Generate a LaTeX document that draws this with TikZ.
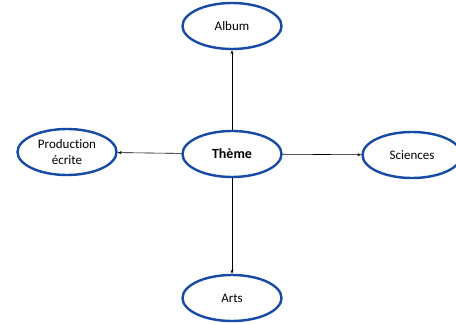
\documentclass[tikz,border=0pt]{standalone}
\usepackage{fontspec}
\setmainfont{Carlito}[Ligatures={NoCommon}]
\usetikzlibrary{shapes.geometric,arrows.meta}
\definecolor{ringblue}{RGB}{22,74,165}
\tikzset{
  topic/.style={ellipse, draw=ringblue, line width=2.4pt, fill=white,
    minimum width=99pt, minimum height=46pt, inner sep=0pt,
    font=\fontsize{13}{16}\selectfont, align=center},
  link/.style={-{Stealth[length=4pt,width=3pt]}, line width=0.6pt, black}
}
\begin{document}
\begin{tikzpicture}[x=1pt,y=-1pt]
\clip (0,0) rectangle (456,324);
\fill[white] (0,0) rectangle (456,324);
\node[topic, font=\fontsize{14}{16}\selectfont\bfseries] (theme) at (232,154) {Thème};
\node[topic] (album) at (232,26) {Album};
\node[topic] (prod) at (67,152) {Production\\écrite};
\node[topic] (sci) at (412,155) {Sciences};
\node[topic] (arts) at (232,298) {Arts};
\draw[link] (theme) -- (album);
\draw[link] (theme) -- (prod);
\draw[link] (theme) -- (sci);
\draw[link] (theme) -- (arts);
\end{tikzpicture}
\end{document}
